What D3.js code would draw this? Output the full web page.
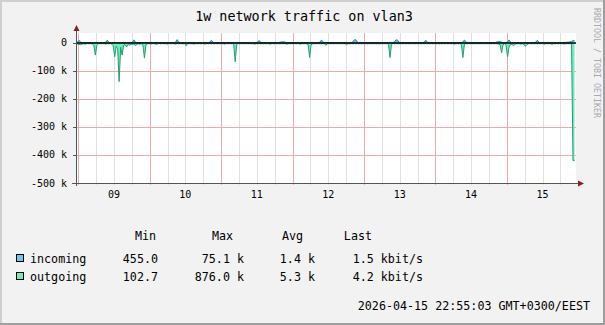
<!DOCTYPE html>
<html><head><meta charset="utf-8">
<script src="https://cdn.jsdelivr.net/npm/d3@7/dist/d3.min.js"></script>
<style>
body{margin:0;background:#f2f2f2;}
svg{display:block;}
text{font-family:"DejaVu Sans Mono",monospace;fill:#000;}
</style></head><body>
<svg id="chart" width="605" height="325"></svg>
<script>
// ---- data (30-minute samples, kbit/s) ----
const startTime = Date.UTC(2026, 3, 8, 22, 55, 3);
const endTime = Date.UTC(2026, 3, 15, 22, 55, 3);
const stepMinutes = 30;
const incoming = [
2,4,10,3,1,1,2,1,1,1,2,1,1,2,1,1,1,2,1,1,3,10,3,1,
1,2,1,1,1,2,1,1,2,1,1,1,2,1,3,11,3,1,1,2,1,1,1,2,
1,1,2,1,1,1,2,1,1,2,1,1,1,2,1,1,1,2,1,3,12,3,1,1,
2,1,1,1,2,1,1,2,1,1,1,2,1,1,1,2,1,1,3,10,3,1,1,2,
1,1,1,2,1,1,2,1,1,1,2,1,1,1,2,1,1,2,1,1,1,2,1,1,
1,2,3,9,3,1,1,2,1,1,1,2,1,1,2,1,1,3,4,4,4,2,1,1,
1,2,1,1,1,2,1,1,2,1,1,1,2,1,1,2,1,1,1,2,3,11,3,1,
1,2,1,1,1,2,1,1,2,1,1,1,2,1,1,1,2,1,4,11,12,4,1,2,
1,1,1,2,1,1,2,1,1,1,2,1,1,1,2,1,1,2,1,1,1,2,3,11,
11,3,1,1,2,1,1,1,2,1,1,2,1,1,1,2,1,1,3,10,3,1,1,2,
1,1,1,2,1,1,2,1,1,1,2,1,1,1,2,1,1,2,1,1,3,11,3,1,
1,2,1,1,2,1,1,1,2,1,1,1,2,1,1,2,1,1,2,4,5,5,3,1,
1,2,3,11,3,1,1,2,1,1,1,2,1,1,2,1,1,1,2,1,1,3,10,3,
1,1,2,1,1,1,2,1,1,2,1,1,1,2,1,1,2,2,3,3,4,6,8,9
];
const outgoing = [
3,4,5,6,4,3,4,3,2,3,2,4,9,43,8,3,2,3,2,3,4,2,3,2,
4,10,49,12,20,138,15,43,8,6,14,5,8,4,5,4,10,4,3,4,3,8,54,6,
3,2,4,3,2,3,5,3,2,3,2,3,2,4,3,2,3,2,3,4,2,3,2,3,
3,2,10,3,2,3,2,4,3,2,3,2,3,2,3,4,2,3,2,3,2,3,2,3,
2,3,2,3,4,2,3,2,3,2,5,67,5,2,3,2,3,2,3,2,3,2,3,2,
5,2,3,2,3,2,3,2,3,2,4,3,2,3,2,3,2,3,2,3,2,3,4,2,
3,2,3,2,3,2,3,4,2,3,2,3,6,52,6,3,2,3,2,3,2,3,2,3,
8,3,2,3,2,3,2,3,2,3,2,3,2,3,5,2,3,2,3,2,3,2,3,2,
3,2,3,2,3,2,3,2,3,2,3,2,3,2,3,2,3,2,5,52,5,2,3,2,
3,2,3,2,3,2,3,2,3,2,3,2,3,2,3,2,3,2,3,2,3,2,3,2,
3,2,3,2,3,2,3,2,3,2,3,2,3,2,4,3,2,3,2,6,52,5,2,3,
2,3,2,3,2,3,2,3,2,3,2,3,2,3,2,3,2,3,2,3,4,6,35,6,
3,8,49,15,4,5,10,4,3,2,3,4,3,5,12,5,3,2,3,2,3,2,3,2,
3,2,3,4,2,3,2,3,5,2,3,2,3,2,3,2,4,3,2,3,2,3,420,420
];
const yTicks = [0,-100,-200,-300,-400,-500];
const seriesNames = ["incoming","outgoing"];
const seriesColors = ["#6cc8ef","#6eeebd"];
const lineColors = ["#2f7fb6","#22a06c"];
const statHeads = ["Min","Max","Avg","Last"];
const statRows = [["455.0","75.1 k","1.4 k","1.5 kbit/s"],["102.7","876.0 k","5.3 k","4.2 kbit/s"]];
const titleText = "1w network traffic on vlan3";
const stampText = "2026-04-15 22:55:03 GMT+0300/EEST";
const watermark = "RRDTOOL / TOBI OETIKER";

const svg = d3.select("#chart");
const W = 605, H = 325;
const L = 76, R = 576, T = 33, B = 183;

// background + frame
svg.append("rect").attr("width",W).attr("height",H).attr("fill","#f2f2f2");
svg.append("path").attr("d",`M0,${H}V0H${W}`).attr("fill","none").attr("stroke","#cfcfcf").attr("stroke-width",4);
svg.append("path").attr("d",`M0,${H}H${W}V0`).attr("fill","none").attr("stroke","#9e9e9e").attr("stroke-width",4);

const x = d3.scaleUtc().domain([startTime,endTime]).range([L,R]);
const y = d3.scaleLinear().domain([-500, 35.7]).range([B,T]);

svg.append("rect").attr("x",L).attr("y",T).attr("width",R-L).attr("height",B-T).attr("fill","#fff");

// grid
const days = d3.utcDay.range(new Date(startTime), new Date(endTime));
const sixh = d3.utcHour.every(6).range(new Date(startTime), new Date(endTime)).filter(d=>d.getUTCHours()!==0);
const g = svg.append("g");
g.selectAll("line.mi").data(sixh).join("line").attr("class","mi")
  .attr("x1",d=>Math.round(x(d))-0.5).attr("x2",d=>Math.round(x(d))-0.5)
  .attr("y1",T).attr("y2",B+2).attr("stroke","#e0e0e0");
g.selectAll("line.ma").data(days).join("line").attr("class","ma")
  .attr("x1",d=>Math.round(x(d))-0.5).attr("x2",d=>Math.round(x(d))-0.5)
  .attr("y1",T).attr("y2",B+2).attr("stroke","#f0aaaa");
g.selectAll("line.hy").data(yTicks.filter(v=>v!==0 && v!==-500)).join("line").attr("class","hy")
  .attr("x1",L-2).attr("x2",R).attr("y1",d=>Math.round(y(d))+0.5).attr("y2",d=>Math.round(y(d))+0.5)
  .attr("stroke","#f0aaaa");

// areas
const t = i => startTime + i*stepMinutes*60e3;
const inArea = d3.area().x((d,i)=>x(t(i))).y0(y(0)).y1(d=>y(d));
const inLine = d3.line().x((d,i)=>x(t(i))).y(d=>y(d));
const outArea = d3.area().x((d,i)=>x(t(i))).y0(y(0)).y1(d=>y(-d));
const outLine = d3.line().x((d,i)=>x(t(i))).y(d=>y(-d));
svg.append("path").datum(incoming).attr("d",inArea).attr("fill",seriesColors[0]);
svg.append("path").datum(incoming).attr("d",inLine).attr("fill","none").attr("stroke",lineColors[0]).attr("stroke-width",1);
svg.append("path").datum(outgoing).attr("d",outArea).attr("fill",seriesColors[1]);
svg.append("path").datum(outgoing).attr("d",outLine).attr("fill","none").attr("stroke",lineColors[1]).attr("stroke-width",1);

// zero rule
svg.append("line").attr("x1",L).attr("x2",R).attr("y1",y(0)).attr("y2",y(0)).attr("stroke","#000").attr("stroke-width",1.6);

// axes
svg.append("line").attr("x1",L-4).attr("x2",R+3).attr("y1",B+0.5).attr("y2",B+0.5).attr("stroke","#555");
svg.append("line").attr("x1",L+0.5).attr("x2",L+0.5).attr("y1",B+3).attr("y2",T-3).attr("stroke","#555");
svg.append("path").attr("d",`M${R+2},${B-2.5}L${R+8},${B+0.5}L${R+2},${B+3.5}Z`).attr("fill","#8a1f1f");
svg.append("path").attr("d",`M${L-2.5},${T-2}L${L+0.5},${T-8}L${L+3.5},${T-2}Z`).attr("fill","#8a1f1f");

// y ticks + labels
svg.selectAll("line.yt").data(yTicks).join("line").attr("class","yt")
  .attr("x1",L-3).attr("x2",L).attr("y1",d=>Math.round(y(d))+0.5).attr("y2",d=>Math.round(y(d))+0.5).attr("stroke","#555");
svg.selectAll("text.yl").data(yTicks).join("text").attr("class","yl")
  .attr("x",67).attr("y",d=>y(d)+3.5).attr("text-anchor","end").attr("font-size","10px")
  .text(d=> d===0 ? "0" : `${d} k`);

// x labels at noon
svg.selectAll("text.xl").data(days).join("text").attr("class","xl")
  .attr("x",d=>x(d3.utcHour.offset(d,12))-1).attr("y",198).attr("text-anchor","middle").attr("font-size","10px")
  .text(d=>d3.utcFormat("%d")(d));

// title
svg.append("text").attr("x",304).attr("y",21).attr("text-anchor","middle").attr("font-size","13.4px").text(titleText);

// watermark
svg.append("text").attr("transform","translate(594,8) rotate(90)").attr("font-size","8.3px").style("fill","#aaa").text(watermark);

// legend
const fs = "11.7px";
const headX = [156,233,303,372];
svg.selectAll("text.hd").data(statHeads).join("text").attr("class","hd")
  .attr("x",(d,i)=>headX[i]).attr("y",240).attr("text-anchor","end").attr("font-size",fs).text(d=>d);
const rowY = [263,281];
const colX = [158,244,315,423];
seriesNames.forEach((n,r)=>{
  svg.append("rect").attr("x",16.5).attr("y",rowY[r]-8.5).attr("width",7).attr("height",7)
    .attr("fill",seriesColors[r]).attr("stroke","#000").attr("stroke-width",1);
  svg.append("text").attr("x",30).attr("y",rowY[r]).attr("font-size",fs).text(n);
  statRows[r].forEach((v,c)=>{
    svg.append("text").attr("x",colX[c]).attr("y",rowY[r]).attr("text-anchor","end").attr("font-size",fs).text(v);
  });
});
svg.append("text").attr("x",590).attr("y",310).attr("text-anchor","end").attr("font-size",fs).text(stampText);
</script>
</body></html>
